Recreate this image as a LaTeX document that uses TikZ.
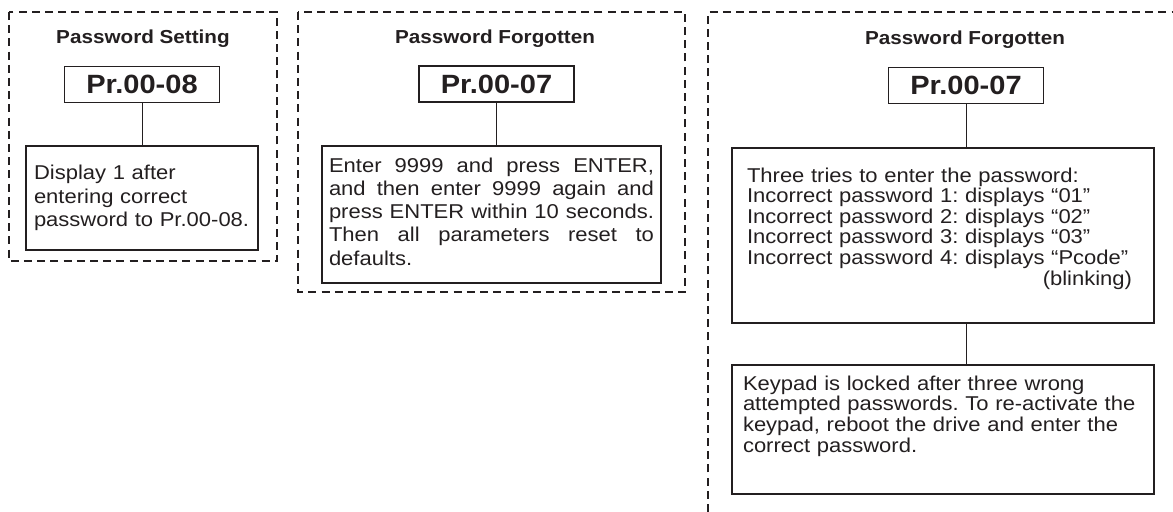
\documentclass[tikz,border=0pt]{standalone}
\usepackage{fontspec}
\setmainfont{Liberation Sans}[FakeStretch=1.1]
\usetikzlibrary{positioning}
\definecolor{ink}{RGB}{35,31,32}
\frenchspacing
\tikzset{
  frame/.style={draw=ink,line width=0.55pt,dash pattern=on 4pt off 2.6pt},
  head/.style={text=ink,inner sep=0pt,font=\fontsize{9.4}{11}\selectfont\bfseries},
  parcode/.style={draw=ink,line width=0.65pt,minimum width=77.5pt,minimum height=18pt,
    inner sep=0pt,text=ink,font=\fontsize{13.2}{15}\selectfont\bfseries},
  note/.style={draw=ink,line width=0.65pt,text=ink,inner ysep=0pt,inner xsep=#1},
  note/.default=4pt,
  link/.style={draw=ink,line width=0.5pt},
}

\begin{document}
\begin{tikzpicture}[x=0.5pt,y=-0.5pt]
  \useasboundingbox (0,0) rectangle (1173,512);
  % password setting
  \draw[frame] (9,12) rectangle (277,261);
  \node[head] (head1) at (143,39) {Password Setting};
  \node[parcode] (pr1) at (142,84.5) {Pr.00-08};
  \node[note,minimum width=116pt,minimum height=52pt,text width=108pt,align=left,
    font=\fontsize{10}{11.65}\selectfont] (txt1) at (142,198)
    {Display 1 after\\ entering correct\\ password to Pr.00-08.};
  \draw[link] (pr1.south) -- (txt1.north);
  % password forgotten, reset
  \draw[frame] (298,12) rectangle (685,292);
  \node[head] (head2) at (495,39) {Password Forgotten};
  \node[parcode] (pr2) at (496.5,84) {Pr.00-07};
  \node[note=3.5pt,minimum width=169.5pt,minimum height=68.5pt,text width=162.5pt,align=justify,
    font=\fontsize{10}{11.65}\selectfont] (txt2) at (491.5,214.5)
    {Enter 9999 and press ENTER,\linebreak and then enter 9999 again and\linebreak
     press ENTER within 10 seconds.\linebreak Then all parameters reset to\linebreak defaults.\par\vspace*{3pt}};
  \draw[link] (pr2.south) -- (pr2.south |- txt2.north);
  % password forgotten, three tries
  \draw[frame] (708,512) -- (708,12) -- (1173,12);
  \node[head] (head3) at (965,40) {Password Forgotten};
  \node[parcode] (pr3) at (966,85.5) {Pr.00-07};
  \node[note=7.5pt,minimum width=211pt,minimum height=87.5pt,text width=196pt,align=left,
    font=\fontsize{10}{10.3}\selectfont] (txt3) at (943,235.5)
    {Three tries to enter the password:\\
     Incorrect password 1: displays “01”\\
     Incorrect password 2: displays “02”\\
     Incorrect password 3: displays “03”\\
     Incorrect password 4: displays “Pcode”\\
     \mbox{}\hfill(blinking)\hspace*{3.5pt}\par\vspace*{7pt}};
  \node[note=5.5pt,minimum width=211pt,minimum height=64.5pt,text width=200pt,align=left,
    font=\fontsize{10}{10.3}\selectfont] (txt4) at (943,429.5)
    {Keypad is locked after three wrong\\
     attempted passwords. To re-activate the\\
     keypad, reboot the drive and enter the\\
     correct password.\par\vspace*{13.5pt}};
  \draw[link] (pr3.south) -- (pr3.south |- txt3.north);
  \draw[link] (pr3.south |- txt3.south) -- (pr3.south |- txt4.north);
\end{tikzpicture}
\end{document}
